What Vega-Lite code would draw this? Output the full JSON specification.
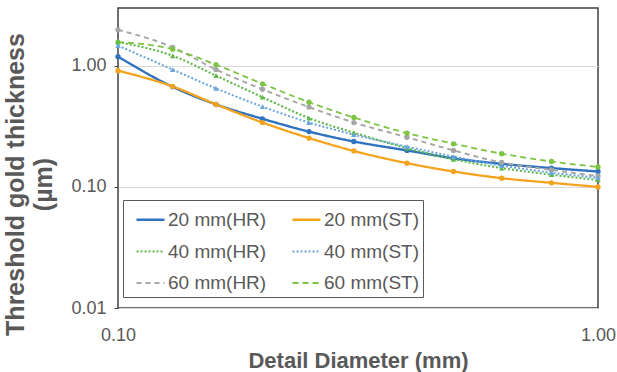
{
  "$schema": "https://vega.github.io/schema/vega-lite/v6.json",
  "autosize": {"type": "none"},
  "width": 480,
  "height": 300,
  "padding": {"left": 118, "top": 8, "right": 19, "bottom": 64},
  "background": "white",
  "config": {
    "font": "Liberation Sans",
    "view": {"stroke": "#404040", "strokeWidth": 1.5},
    "axis": {"labelFont": "Liberation Sans", "titleFont": "Liberation Sans", "labelColor": "#595959", "titleColor": "#595959"},
    "legend": {"strokeColor": "#595959", "fillColor": "white"}
  },
  "data": {"values": [
    {"d": 0.10, "v": 1.19, "s": "20 mm(HR)"}, {"d": 0.13, "v": 0.67, "s": "20 mm(HR)"}, {"d": 0.16, "v": 0.48, "s": "20 mm(HR)"}, {"d": 0.20, "v": 0.365, "s": "20 mm(HR)"}, {"d": 0.25, "v": 0.286, "s": "20 mm(HR)"}, {"d": 0.31, "v": 0.237, "s": "20 mm(HR)"}, {"d": 0.40, "v": 0.2, "s": "20 mm(HR)"}, {"d": 0.50, "v": 0.172, "s": "20 mm(HR)"}, {"d": 0.63, "v": 0.155, "s": "20 mm(HR)"}, {"d": 0.80, "v": 0.143, "s": "20 mm(HR)"}, {"d": 1.00, "v": 0.134, "s": "20 mm(HR)"},
    {"d": 0.10, "v": 0.91, "s": "20 mm(ST)"}, {"d": 0.13, "v": 0.675, "s": "20 mm(ST)"}, {"d": 0.16, "v": 0.48, "s": "20 mm(ST)"}, {"d": 0.20, "v": 0.34, "s": "20 mm(ST)"}, {"d": 0.25, "v": 0.253, "s": "20 mm(ST)"}, {"d": 0.31, "v": 0.198, "s": "20 mm(ST)"}, {"d": 0.40, "v": 0.157, "s": "20 mm(ST)"}, {"d": 0.50, "v": 0.134, "s": "20 mm(ST)"}, {"d": 0.63, "v": 0.118, "s": "20 mm(ST)"}, {"d": 0.80, "v": 0.108, "s": "20 mm(ST)"}, {"d": 1.00, "v": 0.1, "s": "20 mm(ST)"},
    {"d": 0.10, "v": 1.57, "s": "40 mm(HR)"}, {"d": 0.13, "v": 1.21, "s": "40 mm(HR)"}, {"d": 0.16, "v": 0.83, "s": "40 mm(HR)"}, {"d": 0.20, "v": 0.55, "s": "40 mm(HR)"}, {"d": 0.25, "v": 0.37, "s": "40 mm(HR)"}, {"d": 0.31, "v": 0.28, "s": "40 mm(HR)"}, {"d": 0.40, "v": 0.209, "s": "40 mm(HR)"}, {"d": 0.50, "v": 0.169, "s": "40 mm(HR)"}, {"d": 0.63, "v": 0.143, "s": "40 mm(HR)"}, {"d": 0.80, "v": 0.126, "s": "40 mm(HR)"}, {"d": 1.00, "v": 0.114, "s": "40 mm(HR)"},
    {"d": 0.10, "v": 1.47, "s": "40 mm(ST)"}, {"d": 0.13, "v": 0.93, "s": "40 mm(ST)"}, {"d": 0.16, "v": 0.65, "s": "40 mm(ST)"}, {"d": 0.20, "v": 0.46, "s": "40 mm(ST)"}, {"d": 0.25, "v": 0.34, "s": "40 mm(ST)"}, {"d": 0.31, "v": 0.27, "s": "40 mm(ST)"}, {"d": 0.40, "v": 0.215, "s": "40 mm(ST)"}, {"d": 0.50, "v": 0.178, "s": "40 mm(ST)"}, {"d": 0.63, "v": 0.15, "s": "40 mm(ST)"}, {"d": 0.80, "v": 0.131, "s": "40 mm(ST)"}, {"d": 1.00, "v": 0.119, "s": "40 mm(ST)"},
    {"d": 0.10, "v": 1.98, "s": "60 mm(HR)"}, {"d": 0.13, "v": 1.42, "s": "60 mm(HR)"}, {"d": 0.16, "v": 0.93, "s": "60 mm(HR)"}, {"d": 0.20, "v": 0.64, "s": "60 mm(HR)"}, {"d": 0.25, "v": 0.456, "s": "60 mm(HR)"}, {"d": 0.31, "v": 0.34, "s": "60 mm(HR)"}, {"d": 0.40, "v": 0.257, "s": "60 mm(HR)"}, {"d": 0.50, "v": 0.2, "s": "60 mm(HR)"}, {"d": 0.63, "v": 0.159, "s": "60 mm(HR)"}, {"d": 0.80, "v": 0.138, "s": "60 mm(HR)"}, {"d": 1.00, "v": 0.123, "s": "60 mm(HR)"},
    {"d": 0.10, "v": 1.57, "s": "60 mm(ST)"}, {"d": 0.13, "v": 1.37, "s": "60 mm(ST)"}, {"d": 0.16, "v": 1.02, "s": "60 mm(ST)"}, {"d": 0.20, "v": 0.71, "s": "60 mm(ST)"}, {"d": 0.25, "v": 0.5, "s": "60 mm(ST)"}, {"d": 0.31, "v": 0.374, "s": "60 mm(ST)"}, {"d": 0.40, "v": 0.278, "s": "60 mm(ST)"}, {"d": 0.50, "v": 0.227, "s": "60 mm(ST)"}, {"d": 0.63, "v": 0.188, "s": "60 mm(ST)"}, {"d": 0.80, "v": 0.162, "s": "60 mm(ST)"}, {"d": 1.00, "v": 0.146, "s": "60 mm(ST)"}
  ]},
  "encoding": {
    "x": {"field": "d", "type": "quantitative", "scale": {"type": "log", "domain": [0.1, 1], "nice": false},
      "axis": {"title": "Detail Diameter (mm)", "values": [0.1, 1], "format": ".2f", "grid": false, "ticks": false, "domain": false,
        "labelFontSize": 18, "labelPadding": 18, "labelFlush": false, "titleFontSize": 22, "titleFontWeight": "bold", "titlePadding": 6}},
    "y": {"field": "v", "type": "quantitative", "scale": {"type": "log", "domain": [0.01, 3], "nice": false},
      "axis": {"title": ["Threshold gold thickness", "(µm)"], "values": [0.01, 0.1, 1], "format": ".2f", "grid": true, "gridColor": "#d9d9d9", "gridWidth": 1.2,
        "ticks": true, "tickSize": 4, "tickColor": "#404040", "domain": false,
        "labelFontSize": 18, "labelPadding": 8, "titleFontSize": 25, "titleFontWeight": "bold", "titleLineHeight": 28,
        "titleAnchor": "middle", "titleX": -90, "titleY": 176}},
    "color": {"field": "s", "type": "nominal",
      "scale": {"domain": ["20 mm(HR)", "20 mm(ST)", "40 mm(HR)", "40 mm(ST)", "60 mm(HR)", "60 mm(ST)"],
                "range": ["#2e72c0", "#f5a21c", "#5fb84a", "#6aa6dc", "#a6a6a6", "#7dc443"]},
      "legend": {"title": null, "orient": "none", "legendX": 5, "legendY": 192, "columns": 2, "direction": "horizontal",
        "symbolType": "stroke", "symbolSize": 784, "symbolStrokeWidth": 1.6, "symbolOffset": 8,
        "labelFontSize": 19, "labelColor": "#595959", "labelFont": "Liberation Sans", "labelOffset": 2,
        "rowPadding": 6, "columnPadding": 16, "padding": 4}}
  },
  "layer": [
    {
      "mark": {"type": "line", "interpolate": "monotone"},
      "encoding": {
        "strokeDash": {"field": "s", "type": "nominal",
          "scale": {"domain": ["20 mm(HR)", "20 mm(ST)", "40 mm(HR)", "40 mm(ST)", "60 mm(HR)", "60 mm(ST)"],
                    "range": [[1, 0], [1, 0], [2, 2], [2, 2], [5, 4], [6, 4]]},
          "legend": {"title": null}},
        "strokeWidth": {"field": "s", "type": "nominal",
          "scale": {"domain": ["20 mm(HR)", "20 mm(ST)", "40 mm(HR)", "40 mm(ST)", "60 mm(HR)", "60 mm(ST)"],
                    "range": [2.4, 1.8, 1.2, 1.2, 1.5, 2.4]},
          "legend": null}
      }
    },
    {
      "transform": [{"filter": "indexof(datum.s, '40 mm') < 0"}],
      "mark": {"type": "point", "filled": true, "size": 28, "opacity": 1, "shape": "circle"}
    },
    {
      "transform": [{"filter": "indexof(datum.s, '40 mm') >= 0"}],
      "mark": {"type": "point", "filled": true, "size": 30, "opacity": 1, "shape": "triangle-up"}
    }
  ]
}
